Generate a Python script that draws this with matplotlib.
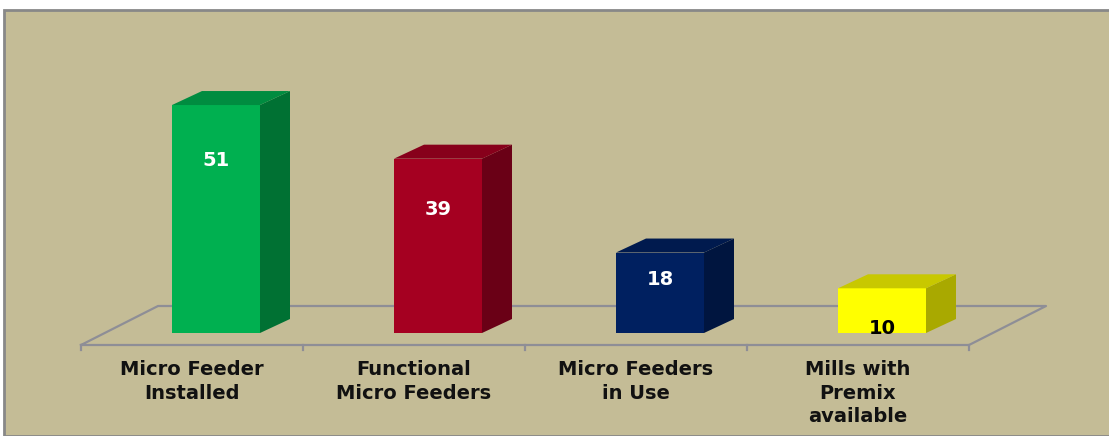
import matplotlib
matplotlib.use("Agg")
import matplotlib.pyplot as plt
from matplotlib.patches import Polygon

# chart data
categories = ["Micro Feeder\nInstalled", "Functional\nMicro Feeders",
              "Micro Feeders\nin Use", "Mills with\nPremix\navailable"]
values = [51, 39, 18, 10]
front_colors = ["#00B050", "#A50021", "#002060", "#FFFF00"]
side_colors = ["#007133", "#6A0016", "#00153F", "#A9A900"]
top_colors = ["#008C40", "#87001B", "#001A4E", "#C8C800"]
label_colors = ["white", "white", "white", "black"]
label_drop = [12.3, 11.3, 6.1, 9.1]   # how far under the bar top the value sits

W, H = 1109, 436
fig = plt.figure(figsize=(W / 100, H / 100), dpi=100)
fig.patch.set_facecolor("white")
ax = fig.add_axes([0, 0, 1, 1])
ax.axis("off")

# axis scale: one category = 222 px, one unit = 4.47 px
px_cat, px_val = 222.0, 4.47
x0_px, y0_px = 216.0, 333.0
ax.set_xlim(-x0_px / px_cat, (W - x0_px) / px_cat)
ax.set_ylim((y0_px - H) / px_val, y0_px / px_val)

bg = "#C4BC96"
grid = "#8E8E96"
# chart area with border
ax.add_patch(plt.Rectangle((-x0_px / px_cat + 4 / px_cat, (y0_px - H) / px_val),
                           (W + 10) / px_cat, (H - 10) / px_val,
                           facecolor=bg, edgecolor="#888888", lw=2.0, zorder=0))

# 3d floor
fx0 = -0.608
depth_x, depth_y = 77 / px_cat, 39 / px_val
front_y = -12 / px_val
n = len(categories)
ax.plot([fx0, fx0 + n, fx0 + n + depth_x, fx0 + depth_x, fx0],
        [front_y, front_y, front_y + depth_y, front_y + depth_y, front_y],
        color=grid, lw=1.6, zorder=1)
for k in range(n + 1):
    ax.plot([fx0 + k, fx0 + k], [front_y, front_y - 5 / px_val], color=grid, lw=1.6, zorder=1)

# bars
bw = 88 / px_cat
dx, dy = 30 / px_cat, 14 / px_val
for i, v in enumerate(values):
    l, r = i - bw / 2, i + bw / 2
    ax.add_patch(Polygon([(l, 0), (r, 0), (r, v), (l, v)], closed=True,
                         facecolor=front_colors[i], edgecolor="none", zorder=3))
    ax.add_patch(Polygon([(r, 0), (r + dx, dy), (r + dx, v + dy), (r, v)], closed=True,
                         facecolor=side_colors[i], edgecolor="none", zorder=3))
    ax.add_patch(Polygon([(l, v), (r, v), (r + dx, v + dy), (l + dx, v + dy)], closed=True,
                         facecolor=top_colors[i], edgecolor="none", zorder=3))
    ax.text(i, v - label_drop[i], str(v), ha="center", va="center", fontsize=14,
            fontweight="bold", color=label_colors[i], zorder=5)

# category labels
for i, c in enumerate(categories):
    ax.text(fx0 + 0.5 + i, front_y - 15 / px_val, c, ha="center", va="top",
            fontsize=14, fontweight="bold", color="#111111", linespacing=1.3, zorder=5)

fig.savefig("out.png", dpi=100, facecolor=fig.get_facecolor())
